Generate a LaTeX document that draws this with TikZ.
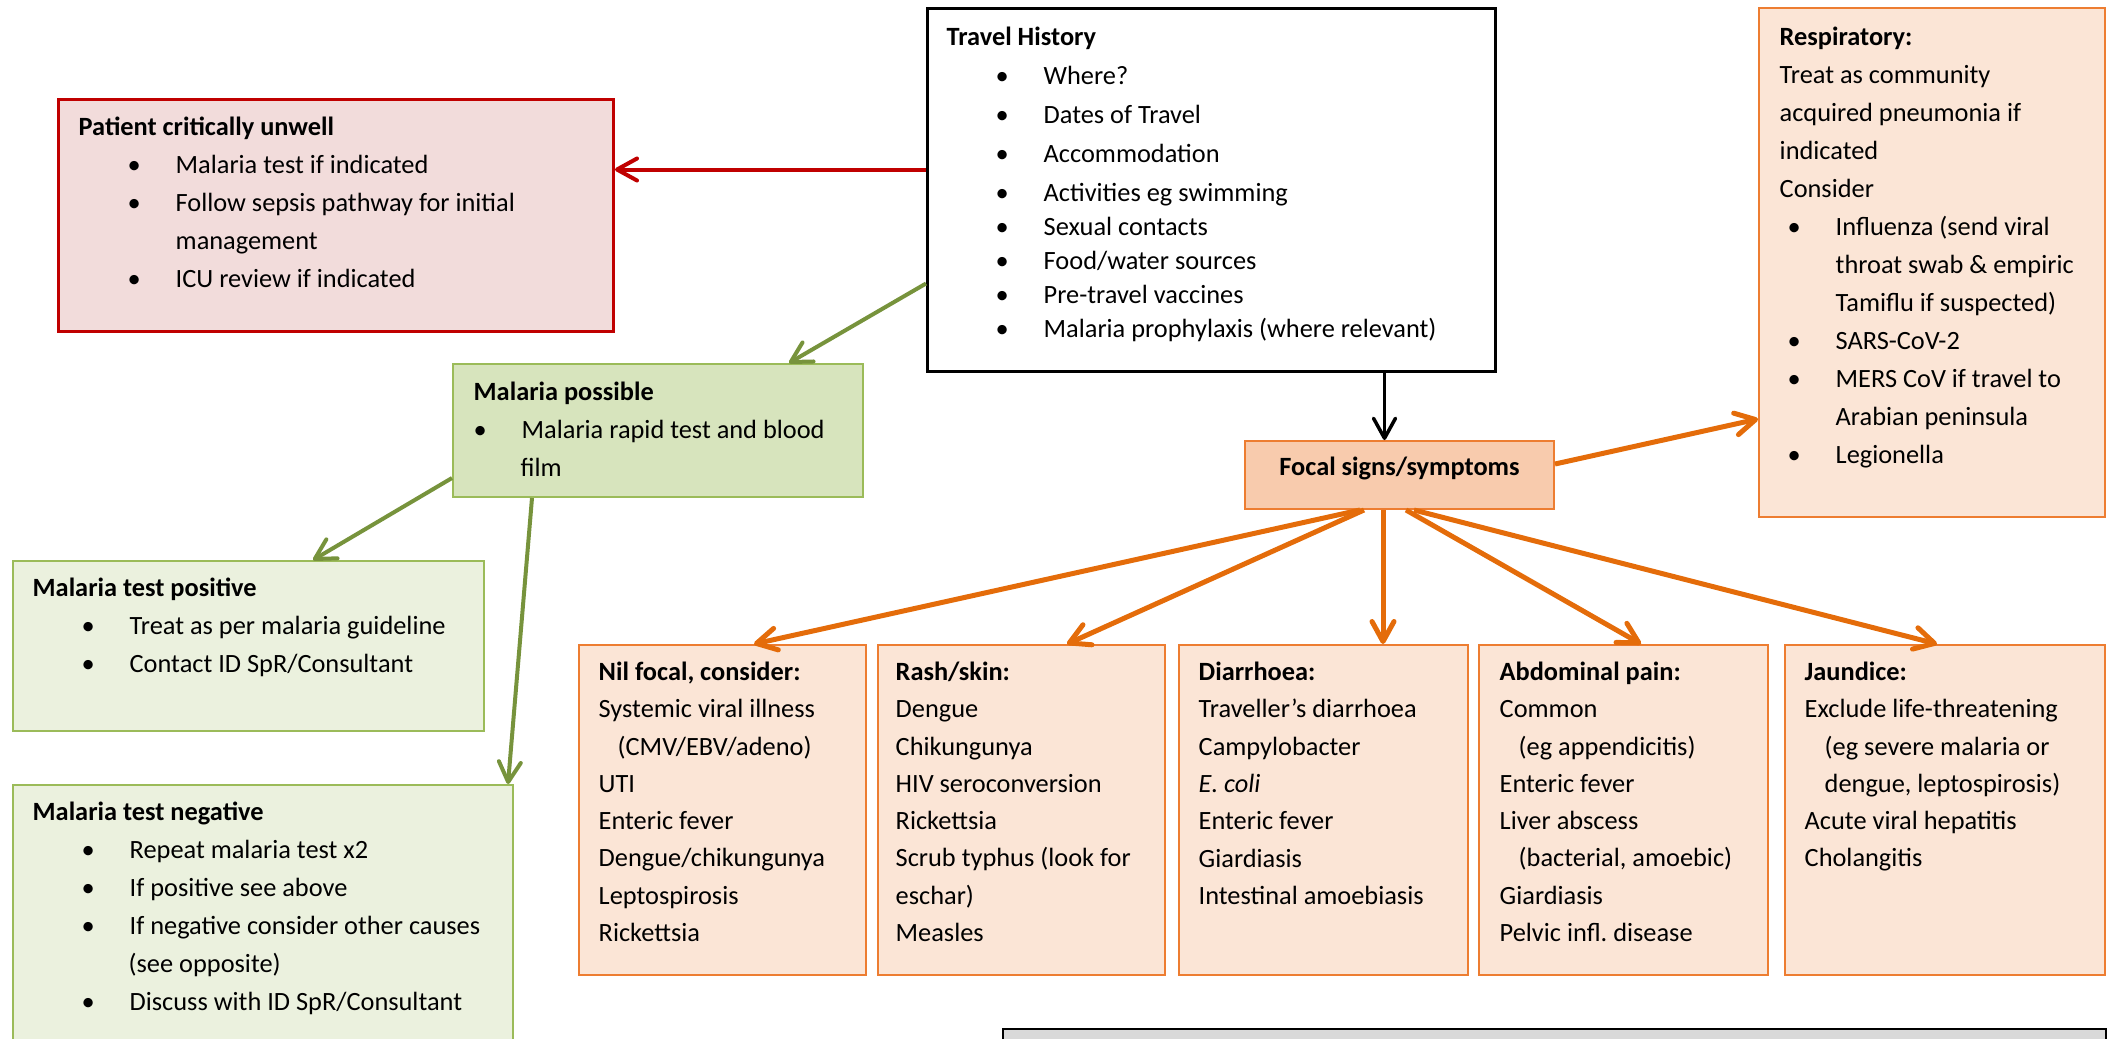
\documentclass[tikz,border=0pt]{standalone}
\usepackage{fontspec}
\setmainfont{Carlito}
\usetikzlibrary{arrows.meta}

\definecolor{critline}{HTML}{C00000}
\definecolor{critfill}{HTML}{F2DCDB}
\definecolor{grnline}{HTML}{9BBB59}
\definecolor{grnarrow}{HTML}{77933C}
\definecolor{grnfill}{HTML}{D7E4BD}
\definecolor{grnlight}{HTML}{EBF1DE}
\definecolor{orgline}{HTML}{ED7D31}
\definecolor{orgarrow}{HTML}{E46C0A}
\definecolor{orgfill}{HTML}{F8CBAD}
\definecolor{orglight}{HTML}{FBE5D6}
\definecolor{notefill}{HTML}{D9D9D9}

\newcommand{\fl}{\rule{0pt}{2.5mm}}
\newcommand{\bul}[2][4.9mm]{\hspace*{#1}\makebox[4.8mm][l]{\textbullet}#2}
\newcommand{\cnt}[2][9.7mm]{\hspace*{#1}#2}

\tikzset{
  box/.style={draw, anchor=north west, inner sep=0pt, line width=0.2mm},
  critbox/.style={box, draw=critline, fill=critfill, line width=0.3mm},
  travelbox/.style={box, draw=black, fill=white, line width=0.3mm},
  grnbox/.style={box, draw=grnline, fill=grnlight},
  orgbox/.style={box, draw=orgline, fill=orglight},
  txt/.style={anchor=north west, align=left, inner sep=0pt, font=\fontsize{7.5}{10.8}\selectfont},
  arr/.style={line width=0.4mm, -{Straight Barb[length=2mm,width=2.2mm,round]}},
  orgarr/.style={arr, orgarrow, line width=0.5mm}
}

\begin{document}
\begin{tikzpicture}
    \useasboundingbox (0,0) rectangle (21.12,-10.38);

    \node[critbox, minimum width=5.55cm, minimum height=2.32cm] (crit) at (0.57,-0.98) {};
    \node[txt] (crit-t) at (0.78,-1.10) {\fl\textbf{Patient critically unwell}\\
      \bul{Malaria test if indicated}\\
      \bul{Follow sepsis pathway for initial}\\
      \cnt{management}\\
      \bul{ICU review if indicated}};

    \node[travelbox, minimum width=5.68cm, minimum height=3.63cm] (travel) at (9.26,-0.07) {};
    \node[txt, font=\fontsize{7.5}{9.67}\selectfont] (travel-t) at (9.46,-0.20) {\fl\textbf{Travel History}\\[0.5mm]
      \bul{Where?}\\[0.5mm]
      \bul{Dates of Travel}\\[0.5mm]
      \bul{Accommodation}\\[0.5mm]
      \bul{Activities eg swimming}\\
      \bul{Sexual contacts}\\
      \bul{Food/water sources}\\
      \bul{Pre-travel vaccines}\\
      \bul{Malaria prophylaxis (where relevant)}};

    \node[grnbox, fill=grnfill, minimum width=4.10cm, minimum height=1.33cm] (malpos) at (4.52,-3.63) {};
    \node[txt] (malpos-t) at (4.73,-3.75) {\fl\textbf{Malaria possible}\\
      \bul[0mm]{Malaria rapid test and blood}\\
      \cnt[4.7mm]{film}};

    \node[grnbox, minimum width=4.71cm, minimum height=1.70cm] (malposi) at (0.12,-5.60) {};
    \node[txt] (malposi-t) at (0.32,-5.71) {\fl\textbf{Malaria test positive}\\
      \bul{Treat as per malaria guideline}\\
      \bul{Contact ID SpR/Consultant}};

    \node[grnbox, minimum width=5.00cm, minimum height=2.80cm] (malneg) at (0.12,-7.84) {};
    \node[txt] (malneg-t) at (0.32,-7.95) {\fl\textbf{Malaria test negative}\\
      \bul{Repeat malaria test x2}\\
      \bul{If positive see above}\\
      \bul{If negative consider other causes}\\
      \cnt[9.6mm]{(see opposite)}\\
      \bul{Discuss with ID SpR/Consultant}};

    \node[orgbox, fill=orgfill, minimum width=3.09cm, minimum height=0.68cm, text depth=1.7mm, font=\fontsize{7.5}{10.8}\selectfont] (focal) at (12.44,-4.40) {\textbf{Focal signs/symptoms}};

    \node[orgbox, minimum width=3.46cm, minimum height=5.09cm] (resp) at (17.58,-0.07) {};
    \node[txt] (resp-t) at (17.79,-0.20) {\fl\textbf{Respiratory:}\\
      Treat as community\\
      acquired pneumonia if\\
      indicated\\
      Consider\\
      \bul[0.8mm]{Influenza (send viral}\\
      \cnt[5.6mm]{throat swab \& empiric}\\
      \cnt[5.6mm]{Tamiflu if suspected)}\\
      \bul[0.8mm]{SARS-CoV-2}\\
      \bul[0.8mm]{MERS CoV if travel to}\\
      \cnt[5.6mm]{Arabian peninsula}\\
      \bul[0.8mm]{Legionella}};

    \node[orgbox, minimum width=2.87cm, minimum height=3.30cm] (nil) at (5.78,-6.44) {};
    \node[txt, font=\fontsize{7.5}{10.6}\selectfont] (nil-t) at (5.98,-6.55) {\fl\textbf{Nil focal, consider:}\\
      Systemic viral illness\\
      \hspace*{1.9mm}(CMV/EBV/adeno)\\
      UTI\\
      Enteric fever\\
      Dengue/chikungunya\\
      Leptospirosis\\
      Rickettsia};

    \node[orgbox, minimum width=2.87cm, minimum height=3.30cm] (rash) at (8.77,-6.44) {};
    \node[txt, font=\fontsize{7.5}{10.6}\selectfont] (rash-t) at (8.95,-6.55) {\fl\textbf{Rash/skin:}\\
      Dengue\\
      Chikungunya\\
      HIV seroconversion\\
      Rickettsia\\
      Scrub typhus (look for\\
      eschar)\\
      Measles};

    \node[orgbox, minimum width=2.89cm, minimum height=3.30cm] (diar) at (11.78,-6.44) {};
    \node[txt, font=\fontsize{7.5}{10.6}\selectfont] (diar-t) at (11.98,-6.55) {\fl\textbf{Diarrhoea:}\\
      Traveller’s diarrhoea\\
      Campylobacter\\
      \textit{E. coli}\\
      Enteric fever\\
      Giardiasis\\
      Intestinal amoebiasis};

    \node[orgbox, minimum width=2.89cm, minimum height=3.30cm] (abd) at (14.78,-6.44) {};
    \node[txt, font=\fontsize{7.5}{10.6}\selectfont] (abd-t) at (14.99,-6.55) {\fl\textbf{Abdominal pain:}\\
      Common\\
      \hspace*{1.9mm}(eg appendicitis)\\
      Enteric fever\\
      Liver abscess\\
      \hspace*{1.9mm}(bacterial, amoebic)\\
      Giardiasis\\
      Pelvic infl.\ disease};

    \node[orgbox, minimum width=3.20cm, minimum height=3.30cm] (jaun) at (17.84,-6.44) {};
    \node[txt, font=\fontsize{7.5}{10.6}\selectfont] (jaun-t) at (18.04,-6.55) {\fl\textbf{Jaundice:}\\
      Exclude life-threatening\\
      \hspace*{2mm}(eg severe malaria or\\
      \hspace*{2mm}dengue, leptospirosis)\\
      Acute viral hepatitis\\
      Cholangitis};

    \node[box, fill=notefill, line width=0.15mm, minimum width=11.03cm, minimum height=0.4cm] (note) at (10.02,-10.28) {};

    \coordinate (r1) at ([yshift=2.05mm]travel.west);
    \draw[arr, critline] (r1) -- (r1 -| crit.east);

    \draw[arr, grnarrow] ([yshift=-9.35mm]travel.west) -- ([xshift=13.1mm]malpos.north);
    \draw[arr, grnarrow] ([yshift=-4.75mm]malpos.west) -- ([xshift=6.45mm]malposi.north);
    \draw[arr, grnarrow] ([xshift=-12.6mm]malpos.south) -- ([xshift=24.5mm]malneg.north);

    \coordinate (b1) at ([xshift=17.3mm]travel.south);
    \draw[arr, black, line width=0.35mm] (b1) -- (b1 |- focal.north);

    \draw[orgarr] ([yshift=1.1mm]focal.east) -- ([yshift=-15.65mm]resp.west);

    \draw[orgarr] ([xshift=-3.95mm]focal.south) -- ([xshift=3.15mm]nil.north);
    \draw[orgarr] ([xshift=-3.55mm]focal.south) -- ([xshift=4.55mm]rash.north);
    \coordinate (d1) at ([xshift=-1.65mm]focal.south);
    \draw[orgarr] (d1) -- (d1 |- diar.north);
    \draw[orgarr] ([xshift=0.65mm]focal.south) -- ([xshift=1.75mm]abd.north);
    \draw[orgarr] ([xshift=1.45mm]focal.south) -- ([xshift=-0.8mm]jaun.north);
\end{tikzpicture}
\end{document}
